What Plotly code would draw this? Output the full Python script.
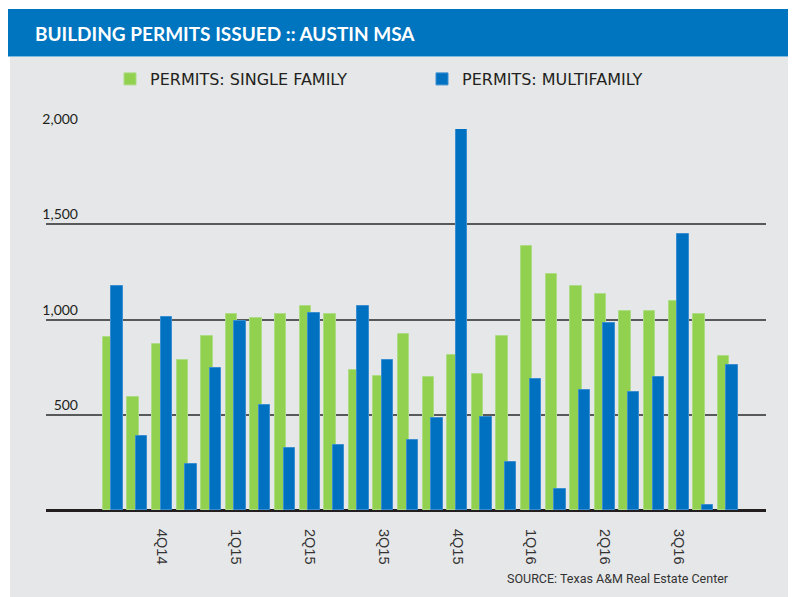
import plotly.graph_objects as go

months = ["Aug-14", "Sep-14", "Oct-14", "Nov-14", "Dec-14", "Jan-15", "Feb-15", "Mar-15",
          "Apr-15", "May-15", "Jun-15", "Jul-15", "Aug-15", "Sep-15", "Oct-15", "Nov-15",
          "Dec-15", "Jan-16", "Feb-16", "Mar-16", "Apr-16", "May-16", "Jun-16", "Jul-16",
          "Aug-16", "Sep-16"]
single_family = [906, 595, 870, 786, 913, 1027, 1006, 1027, 1071, 1029, 737, 705, 922,
                 698, 814, 714, 912, 1384, 1237, 1174, 1134, 1045, 1045, 1097, 1029, 810]
multifamily = [1176, 388, 1013, 240, 744, 990, 553, 324, 1032, 341, 1069, 789, 366,
               481, 2000, 487, 252, 688, 110, 630, 982, 618, 698, 1447, 26, 763]
quarter_months = ["Oct-14", "Jan-15", "Apr-15", "Jul-15", "Oct-15", "Jan-16", "Apr-16", "Jul-16"]
quarter_labels = ["4Q14", "1Q15", "2Q15", "3Q15", "4Q15", "1Q16", "2Q16", "3Q16"]
y_ticks = [500, 1000, 1500, 2000]

# page body has an 8px margin; figure is sized to fit the window
OFF = 8
W, H = 788, 589
L, R, T, B = 38, 30, 121, 87
PW, PH = W - L - R, H - T - B


def px(x):  # page x -> paper
    return (x - OFF - L) / PW


def py(y):  # page y -> paper
    return (H - B - (y - OFF)) / PH


idx = list(range(len(months)))
tick_pos = [months.index(m) for m in quarter_months]

GREEN = "#92D050"
BLUE = "#0070C0"

fig = go.Figure()
fig.add_trace(go.Bar(
    x=idx, y=single_family, name="PERMITS: SINGLE FAMILY",
    marker=dict(color=GREEN, line=dict(color="#ADDC84", width=1)),
    width=0.46, offset=-0.41,
))
fig.add_trace(go.Bar(
    x=idx, y=multifamily, name="PERMITS: MULTIFAMILY",
    marker=dict(color=BLUE, line=dict(color="#3B8FD0", width=1)),
    width=0.46, offset=-0.06,
))

fig.update_layout(
    width=W, height=H,
    margin=dict(l=L, r=R, t=T, b=B),
    paper_bgcolor="white",
    plot_bgcolor="#E6E7E8",
    barmode="overlay",
    bargap=0,
    showlegend=True,
    legend=dict(
        orientation="h", x=px(110), y=py(79), xanchor="left", yanchor="middle",
        font=dict(family="DejaVu Sans", size=16, color="#231F20"),
        bgcolor="rgba(0,0,0,0)", entrywidth=267, entrywidthmode="pixels",
        traceorder="normal",
    ),
    xaxis=dict(
        range=[-2.72, 26.55], showgrid=False, zeroline=False, showline=False,
        tickmode="array", tickvals=tick_pos, ticktext=quarter_labels,
        tickangle=90, ticks="", ticklabelstandoff=18,
        tickfont=dict(family="Liberation Sans", size=14.5, color="#333333"),
        fixedrange=True,
    ),
    yaxis=dict(
        range=[0, 2000], tickmode="array", tickvals=y_ticks,
        tickformat=",", showgrid=True, gridcolor="#58595B", gridwidth=1.5,
        zeroline=True, zerolinecolor="#231F20", zerolinewidth=2.5,
        showline=False, ticks="",
        ticklabelposition="outside top", ticklabelstandoff=-33,
        tickfont=dict(family="Lato", size=14, color="#231F20"),
        fixedrange=True,
    ),
    shapes=[
        dict(type="rect", xref="paper", yref="paper", layer="below",
             x0=px(10), x1=px(OFF + W), y0=py(57), y1=py(OFF + H),
             fillcolor="#E6E7E8", line=dict(width=0)),
        dict(type="rect", xref="paper", yref="paper", layer="below",
             x0=px(OFF), x1=px(OFF + W), y0=py(9), y1=py(56.5),
             fillcolor="#0075BF", line=dict(width=0)),
    ],
    annotations=[
        dict(text="BUILDING PERMITS ISSUED :: AUSTIN MSA", xref="paper", yref="paper",
             x=px(33), y=py(33), xanchor="left", yanchor="middle", showarrow=False,
             font=dict(family="Lato", size=19, color="white", weight="bold")),
        dict(text="SOURCE: Texas A&M Real Estate Center", xref="paper", yref="paper",
             x=px(731), y=py(578), xanchor="right", yanchor="middle", showarrow=False,
             font=dict(family="Roboto", size=12.5, color="#333333")),
    ],
)

fig.write_html("out.html")
